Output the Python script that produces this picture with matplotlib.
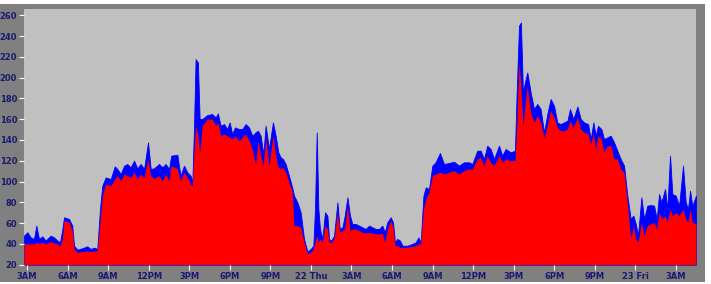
import numpy as np
import matplotlib
matplotlib.use('Agg')
import matplotlib.pyplot as plt
from matplotlib.patches import Rectangle

# hours since midnight of day 21 (irregular samples)
hours = [2.78, 3.03, 3.27, 3.52, 3.69, 3.89, 4.14, 4.38, 4.75, 5.00, 5.25, 5.44, 5.62, 5.74, 6.11,
         6.35, 6.48, 6.72, 7.09, 7.46, 7.71, 7.96, 8.20, 8.40, 8.57, 8.82, 9.19, 9.49, 9.68, 9.93,
         10.18, 10.42, 10.67, 10.92, 11.16, 11.41, 11.66, 11.95, 12.15, 12.40,
         12.76, 13.01, 13.25, 13.50, 13.67, 14.12, 14.24, 14.36, 14.61, 14.86, 15.10, 15.23, 15.35,
         15.47, 15.64, 15.77, 15.96, 16.33, 16.70, 16.95, 17.12, 17.32, 17.57, 17.81, 17.99, 18.18,
         18.38, 18.68, 18.92, 19.17, 19.42, 19.66, 19.91, 20.08, 20.28, 20.48, 20.65, 20.90, 21.19,
         21.39, 21.59, 21.76, 21.93, 22.13, 22.38, 22.62,
         22.75, 23.00, 23.24, 23.49, 23.74, 23.98, 24.18, 24.30, 24.43, 24.55, 24.67, 24.85, 25.04,
         25.22, 25.34, 25.51, 25.71, 25.96, 26.13, 26.33, 26.50, 26.70, 26.89, 27.06, 27.31, 27.56,
         27.80, 28.05, 28.30, 28.54, 28.79, 29.04, 29.28, 29.46, 29.65, 29.90, 30.07, 30.22, 30.39,
         30.59, 30.76, 31.13, 31.50, 31.75, 31.95, 32.12, 32.32, 32.49,
         32.73, 32.98, 33.22, 33.54, 33.84, 34.21, 34.58, 34.95, 35.32, 35.69, 35.94, 36.30, 36.55,
         36.80, 37.04, 37.29, 37.54, 37.91, 38.15, 38.40, 38.77, 39.09, 39.21, 39.39, 39.53, 39.68,
         39.83, 40.00, 40.25, 40.50, 40.74, 40.99, 41.24, 41.48, 41.73, 41.98, 42.22, 42.47,
         42.72, 42.97, 43.16, 43.41, 43.71, 43.95, 44.20, 44.50, 44.69, 44.89, 45.06, 45.23, 45.48,
         45.68, 45.92, 46.17, 46.42, 46.66, 46.91, 47.16, 47.40, 47.65, 47.85, 48.02, 48.19, 48.44,
         48.64, 48.88, 49.13, 49.38, 49.57, 49.75, 49.92, 50.19, 50.36, 50.56, 50.73, 50.98, 51.23,
         51.52, 51.72, 51.89, 52.04, 52.21, 52.48]

total = [48.0, 51.2, 46.3, 44.8, 57.6, 44.8, 47.3, 43.2, 48.0, 46.3, 43.2, 41.6, 54.4, 65.6, 64.0,
         57.6, 38.3, 34.5, 35.8, 37.7, 35.1, 36.4, 35.1, 73.6, 96.0, 104.0, 102.4, 114.6, 112.1, 107.2,
         115.3, 116.9, 113.7, 120.1, 112.7, 116.9, 112.1, 137.7, 112.1, 112.7,
         116.9, 113.7, 116.9, 112.1, 124.9, 125.8, 115.3, 105.6, 115.3, 108.9, 105.6, 99.2, 150.5,
         217.8, 214.6, 160.1, 160.1, 164.0, 164.9, 161.7, 165.6, 153.7, 155.3, 150.5, 156.9, 145.7,
         152.1, 150.5, 150.5, 155.3, 152.1, 144.1, 147.3, 148.9, 144.1, 126.5, 153.7, 131.3, 156.9,
         144.1, 128.1, 123.3, 121.7, 116.9, 105.6, 94.0,
         86.4, 80.0, 70.4, 44.8, 32.6, 35.1, 38.3, 73.6, 147.3, 73.6, 54.4, 44.8, 70.4,
         67.2, 44.8, 43.2, 48.0, 80.0, 54.4, 56.0, 67.2, 84.8, 67.2, 59.2, 59.2, 57.6,
         56.0, 54.4, 57.6, 56.0, 54.4, 54.4, 57.6, 51.2, 60.8, 65.6, 60.8, 41.6, 44.8,
         43.2, 38.3, 38.3, 40.0, 41.6, 46.3, 41.6, 86.4, 94.4,
         92.8, 115.3, 118.5, 127.5, 116.9, 117.8, 119.1, 115.3, 118.5, 118.5, 116.9, 129.7, 129.7,
         121.7, 134.5, 131.3, 121.7, 134.5, 124.9, 131.3, 128.1, 129.7, 182.6, 249.9, 253.1, 185.8,
         195.4, 205.0, 185.8, 169.8, 174.6, 169.8, 147.3, 164.9, 179.4, 172.9, 156.9, 155.3,
         156.9, 158.5, 169.8, 160.1, 172.3, 160.1, 156.9, 155.3, 140.9, 156.9, 144.1, 153.7, 150.5,
         140.9, 142.5, 144.1, 137.7, 129.7, 121.7, 115.3, 86.4, 64.0, 67.2, 59.2, 48.0, 84.8,
         64.0, 76.8, 77.4, 76.8, 64.0, 88.0, 80.0, 92.8, 73.6, 124.9, 88.0, 86.4, 76.8,
         115.3, 80.0, 73.6, 91.2, 76.8, 86.4]

inbound = [40.0, 40.0, 40.0, 40.0, 41.6, 40.5, 41.6, 40.0, 42.2, 41.0, 40.0, 37.7, 45.0, 62.4, 60.8,
           52.8, 35.1, 31.9, 32.6, 33.2, 32.6, 33.2, 33.5, 60.8, 86.4, 97.6, 96.0, 102.4, 105.6, 100.8,
           107.2, 105.6, 104.0, 108.9, 102.4, 107.2, 104.0, 121.7, 105.6, 103.0,
           105.6, 100.8, 107.2, 100.8, 115.3, 112.1, 105.6, 100.8, 108.9, 104.0, 97.6, 96.0, 128.1,
           153.7, 144.1, 128.1, 153.7, 160.1, 160.1, 153.7, 156.9, 144.1, 145.7, 144.1, 142.5, 140.9,
           144.1, 139.3, 142.5, 145.7, 139.3, 131.3, 116.9, 139.3, 124.9, 115.3, 142.5, 115.3, 144.1,
           124.9, 113.7, 112.1, 113.7, 108.9, 99.2, 90.0,
           57.6, 57.6, 56.0, 41.6, 30.3, 31.9, 35.1, 41.6, 48.0, 41.6, 44.8, 41.6, 57.6,
           54.4, 41.6, 41.6, 44.8, 70.4, 51.2, 52.8, 54.4, 76.8, 52.8, 54.4, 54.4, 52.8,
           51.2, 50.5, 51.2, 50.5, 49.6, 49.6, 50.5, 41.6, 54.4, 62.4, 56.0, 38.3, 38.3,
           36.7, 36.7, 36.7, 37.7, 38.3, 40.0, 40.0, 73.6, 83.2,
           89.6, 105.6, 107.2, 108.9, 107.2, 108.9, 110.5, 107.2, 110.5, 112.1, 112.1, 121.7, 123.3,
           115.3, 124.9, 118.5, 115.3, 124.9, 118.5, 121.7, 120.1, 120.1, 150.5, 214.6, 192.2, 153.7,
           172.9, 192.2, 166.5, 156.9, 163.3, 156.9, 142.5, 153.7, 168.2, 161.7, 152.1, 148.9,
           148.9, 150.5, 158.5, 152.1, 161.7, 150.5, 147.3, 145.7, 136.1, 145.7, 131.3, 144.1, 140.9,
           128.1, 134.5, 134.5, 121.7, 121.7, 112.1, 108.9, 80.0, 44.8, 57.6, 44.8, 41.6, 60.8,
           48.0, 57.6, 59.2, 60.8, 54.4, 70.4, 64.0, 67.2, 60.8, 73.6, 67.2, 70.4, 67.2,
           73.6, 64.0, 60.8, 73.6, 60.8, 59.2]

tick_hours = [3, 6, 9, 12, 15, 18, 21, 24, 27, 30, 33, 36, 39, 42, 45, 48, 51]
tick_labels = ['3AM', '6AM', '9AM', '12PM', '3PM', '6PM', '9PM', '22 Thu', '3AM', '6AM', '9AM',
               '12PM', '3PM', '6PM', '9PM', '23 Fri', '3AM']
y_ticks = list(range(20, 261, 20))

W, H = 711, 284
fig = plt.figure(figsize=(W / 100, H / 100), dpi=100, facecolor='white')
fig.patches.append(Rectangle((0, 2 / H), 705 / W, (H - 6) / H, transform=fig.transFigure,
                             facecolor='#808080', edgecolor='none', zorder=-5))

ax = fig.add_axes([24 / W, 1 - 264.7 / H, 672 / W, 255.7 / H])
ax.set_zorder(1)
ax.set_facecolor('#c0c0c0')
ax.fill_between(hours, 20, total, color='#0000ff', lw=0.6, edgecolor='#0000ff')
ax.fill_between(hours, 20, inbound, color='#ff0000', lw=0)

ax.set_xlim(2.78, 52.48)
ax.set_ylim(20, 266)
for s in ax.spines.values():
    s.set_visible(False)

navy = '#1a1a70'
ax.set_xticks(tick_hours)
ax.set_xticklabels(tick_labels)
ax.set_yticks(y_ticks)
ax.tick_params(axis='both', which='major', colors='white', length=3.5, width=0.8,
               labelsize=6, labelcolor=navy, pad=1.5)
for lab in ax.get_xticklabels() + ax.get_yticklabels():
    lab.set_fontweight('bold')

fig.savefig('out.png', dpi=100, facecolor=fig.get_facecolor())
